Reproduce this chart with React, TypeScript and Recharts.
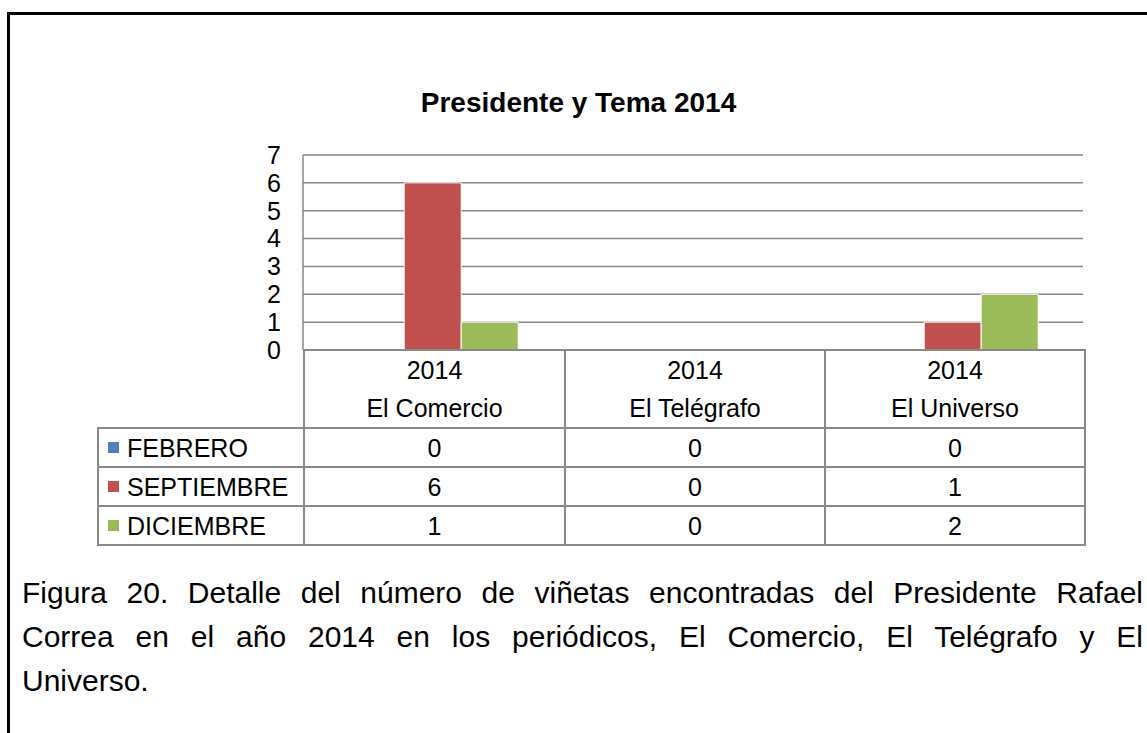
import React from 'react';
import { BarChart, Bar, XAxis, YAxis, CartesianGrid } from 'recharts';

const categories = ['El Comercio', 'El Telégrafo', 'El Universo'];
const years = ['2014', '2014', '2014'];
const seriesNames = ['FEBRERO', 'SEPTIEMBRE', 'DICIEMBRE'];
const febrero = [0, 0, 0];
const septiembre = [6, 0, 1];
const diciembre = [1, 0, 2];
const yTicks = [0, 1, 2, 3, 4, 5, 6, 7];
const colors = ['#4F81BD', '#C0504D', '#9BBB59'];

const captionLines = [
  'Figura 20. Detalle del número de viñetas encontradas del Presidente Rafael',
  'Correa en el año 2014 en los periódicos, El Comercio, El Telégrafo y El',
  'Universo.',
];

const seriesValues = [febrero, septiembre, diciembre];
const data = categories.map((c, i) => ({
  name: c,
  FEBRERO: febrero[i],
  SEPTIEMBRE: septiembre[i],
  DICIEMBRE: diciembre[i],
}));

const FONT = 'Arial, "Liberation Sans", sans-serif';
const LINE = '2px solid #8a8a8a';

export default function App() {
  const cell: React.CSSProperties = {
    border: LINE,
    textAlign: 'center',
    padding: 0,
    fontSize: 25,
    lineHeight: '30px',
  };
  return (
    <div style={{ position: 'fixed', left: 0, top: 0, width: 1147, height: 733, overflow: 'hidden', background: '#fff', fontFamily: FONT, color: '#000' }}>
      {/* outer frame, only top and left edges are visible */}
      <div style={{ position: 'absolute', left: 7, top: 12, width: 1300, height: 900, borderTop: '3px solid #000', borderLeft: '3px solid #000' }} />

      <div style={{ position: 'absolute', left: 10, top: 85, width: 1137, textAlign: 'center', fontWeight: 'bold', fontSize: 28, lineHeight: '35px' }}>
        Presidente y Tema 2014
      </div>

      <div style={{ position: 'absolute', left: 0, top: 0 }}>
        <BarChart
          width={1147}
          height={733}
          data={data}
          margin={{ top: 155, right: 64, bottom: 383, left: 243 }}
          barCategoryGap="17%"
          barGap={0}
        >
          <CartesianGrid vertical={false} stroke="#888" strokeWidth={1.5} />
          <XAxis dataKey="name" hide />
          <YAxis
            width={60}
            domain={[0, 7]}
            ticks={yTicks}
            interval={0}
            tickLine={false}
            tickSize={0}
            tickMargin={22}
            axisLine={{ stroke: '#888', strokeWidth: 1.5 }}
            tick={{ fill: '#000', fontSize: 25, fontFamily: FONT }}
          />
          {seriesNames.map((s, i) => (
            <Bar key={s} dataKey={s} fill={colors[i]} stroke="#fff" strokeWidth={1} isAnimationActive={false} />
          ))}
        </BarChart>
      </div>

      {/* data table under the plot */}
      <table
        style={{
          position: 'absolute',
          left: 97,
          top: 349,
          borderCollapse: 'collapse',
          tableLayout: 'fixed',
          width: 987,
          fontFamily: FONT,
        }}
      >
        <colgroup>
          <col style={{ width: 206 }} />
          <col style={{ width: 261 }} />
          <col style={{ width: 260 }} />
          <col style={{ width: 260 }} />
        </colgroup>
        <tbody>
          <tr style={{ height: 77 }}>
            <td style={{ ...cell, borderTop: 'none', borderLeft: 'none' }} />
            {categories.map((c, i) => (
              <td key={c} style={{ ...cell, lineHeight: '38px' }}>
                {years[i]}
                <br />
                {c}
              </td>
            ))}
          </tr>
          {seriesNames.map((s, si) => (
            <tr key={s} style={{ height: 39 }}>
              <td style={{ ...cell, textAlign: 'left', whiteSpace: 'nowrap' }}>
                <span style={{ display: 'inline-block', width: 11, height: 11, background: colors[si], marginLeft: 9, marginRight: 8, verticalAlign: 'middle', position: 'relative', top: -2 }} />
                {s}
              </td>
              {seriesValues[si].map((v, ci) => (
                <td key={ci} style={cell}>{v}</td>
              ))}
            </tr>
          ))}
        </tbody>
      </table>

      <div style={{ position: 'absolute', left: 22, top: 571, width: 1121, fontSize: 30, lineHeight: '44px' }}>
        {captionLines.map((l, i) => (
          <div key={i} style={{ textAlign: 'justify', textAlignLast: i < captionLines.length - 1 ? 'justify' : 'left', whiteSpace: 'nowrap' }}>
            {l}
          </div>
        ))}
      </div>
    </div>
  );
}
